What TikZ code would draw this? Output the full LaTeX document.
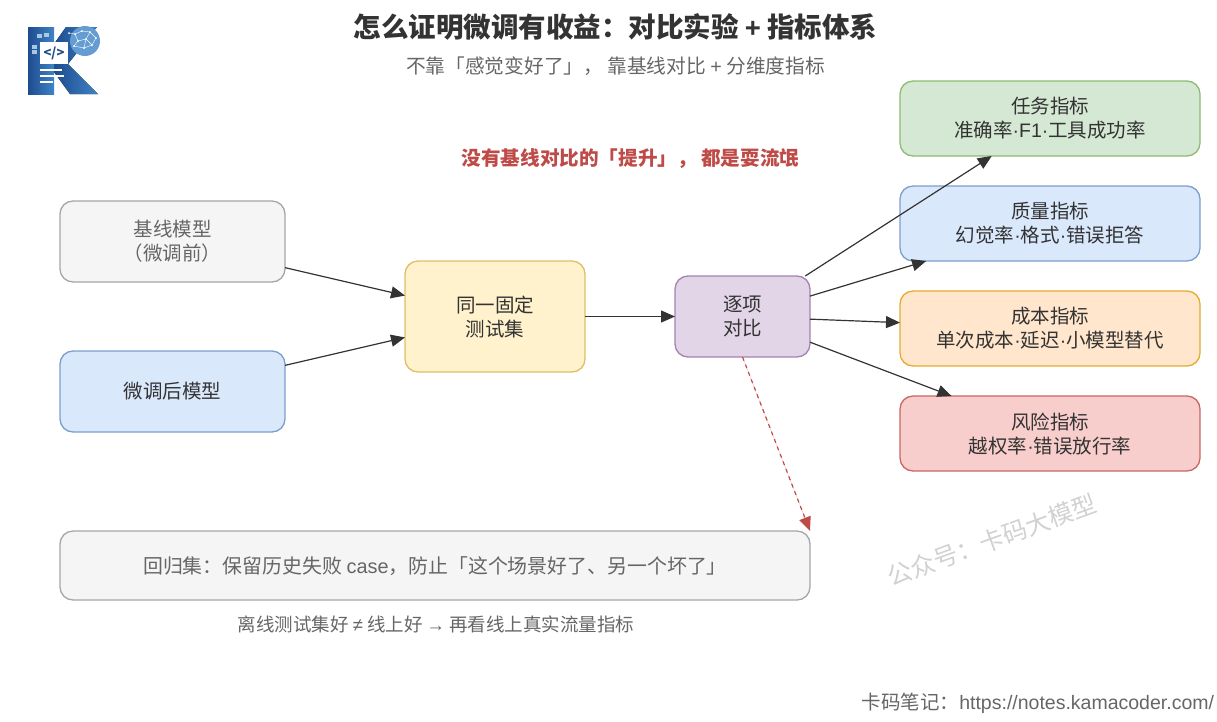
\documentclass[tikz,border=0pt]{standalone}
\usepackage{fontspec}
\setmainfont{Noto Sans CJK SC}
\newfontfamily\latfont{Liberation Sans}
\usetikzlibrary{arrows.meta}

\definecolor{inkGray}{HTML}{333333}
\definecolor{softGray}{HTML}{666666}
\definecolor{warnRed}{HTML}{BE4B48}
\definecolor{logoDark}{HTML}{1D4C8F}
\definecolor{logoMid}{HTML}{3F83C6}
\definecolor{blueLine}{HTML}{7C9ECE}
\definecolor{blueFill}{HTML}{DAE8FC}
\definecolor{greenLine}{HTML}{8DBB72}
\definecolor{greenFill}{HTML}{D5E8D4}
\definecolor{yellowLine}{HTML}{DEBE66}
\definecolor{yellowFill}{HTML}{FFF2CC}
\definecolor{orangeLine}{HTML}{E3AC2E}
\definecolor{orangeFill}{HTML}{FFE6CC}
\definecolor{violetLine}{HTML}{A582B2}
\definecolor{violetFill}{HTML}{E1D5E7}
\definecolor{redLine}{HTML}{C96663}
\definecolor{redFill}{HTML}{F8CECC}

\tikzstyle{box}=[shape=rectangle,rounded corners=13pt,line width=1.3pt,inner sep=0pt,outer sep=0pt,align=center,text depth=1.5pt,text=inkGray,font=\fontsize{19.5}{24}\selectfont]
\tikzstyle{grayBox}=[box,draw=black!35,fill=black!4,text=softGray]
\tikzstyle{blueBox}=[box,draw=blueLine,fill=blueFill]
\tikzstyle{flow}=[line width=1.2pt,draw=inkGray]
\tikzstyle{label}=[inner sep=0pt,outer sep=0pt,align=center]

\begin{document}
\begin{tikzpicture}[x=1pt,y=-1pt,>={Triangle[length=14pt,width=12pt]}]
        \useasboundingbox (0,0) rectangle (1217,721);

        % logo
        \fill[left color=logoDark,right color=logoMid] (28,27) -- (54,27) -- (54,94) -- (28,94) -- cycle;
        \fill[left color=logoDark,right color=logoMid] (54,44) -- (66,27) -- (97,27) -- (68,64) -- (98,94) -- (70,94) -- (54,72) -- cycle;
        \fill[logoMid!80!white] (85,41) circle (15);
        \draw[white,line width=0.4pt] (69,33) -- (75,34) -- (82,31) -- (90,32) -- (96,38) -- (92,45) -- (84,48) -- (74,46) -- (78,41) -- (86,39) -- (90,32) (75,34) -- (78,41) (86,39) -- (92,45) (86,39) -- (84,48);
        \foreach \dx/\dy in {75/34,82/31,90/32,96/38,78/41,86/39,92/45,84/48,74/46,69/33}
            \fill[white] (\dx,\dy) circle (1);
        \foreach \dx/\dy in {32/45,32/50,37/34,44/33}
            \fill[logoMid!45!white] (\dx,\dy) rectangle +(5,4);
        \fill[white] (40,42) rectangle (68,64);
        \node[label,text=logoDark,font=\fontsize{13}{13}\selectfont\bfseries] (code) at (54,53) {</>};
        \fill[white] (40,69) rectangle (62,71);
        \fill[white] (40,75) rectangle (64,77);
        \fill[white] (40,81) rectangle (53,83);

        % heading
        \node[label,text=inkGray,font=\fontsize{27.5}{32}\selectfont\bfseries] (title) at (615.5,27) {怎么证明微调有收益：对比实验 {\latfont +} 指标体系};
        \node[label,text=softGray,font=\fontsize{19.7}{24}\selectfont] (subtitle) at (615.5,66) {不靠「感觉变好了」， 靠基线对比 {\latfont +} 分维度指标};
        \node[label,text=warnRed,font=\fontsize{19.6}{24}\selectfont\bfseries] (warning) at (630.5,158.5) {没有基线对比的「提升」， 都是耍流氓};

        % models
        \node[grayBox,minimum width=225pt,minimum height=81pt] (baseModel) at (172.5,241.5) {基线模型\\（微调前）};
        \node[blueBox,minimum width=225pt,minimum height=81pt] (tunedModel) at (172.5,391.5) {微调后模型};

        % test set and comparison
        \node[box,draw=yellowLine,fill=yellowFill,minimum width=180pt,minimum height=111pt] (testSet) at (495,316.5) {同一固定\\测试集}
            edge [<-,flow] (baseModel)
            edge [<-,flow] (tunedModel);
        \node[box,draw=violetLine,fill=violetFill,minimum width=135pt,minimum height=81pt] (compare) at (742.5,316.5) {逐项\\对比}
            edge [<-,flow] (testSet);

        % metrics
        \node[blueBox,minimum width=300pt,minimum height=75pt] (qualityMetric) at (1050,223.5) {质量指标\\幻觉率{\latfont ·}格式{\latfont ·}错误拒答}
            edge [<-,flow] (compare);
        \node[box,draw=orangeLine,fill=orangeFill,minimum width=300pt,minimum height=75pt] (costMetric) at (1050,328.5) {成本指标\\单次成本{\latfont ·}延迟{\latfont ·}小模型替代}
            edge [<-,flow] (compare);
        \node[box,draw=redLine,fill=redFill,minimum width=300pt,minimum height=75pt] (riskMetric) at (1050,433.5) {风险指标\\越权率{\latfont ·}错误放行率}
            edge [<-,flow] (compare);
        \node[box,draw=greenLine,fill=greenFill,minimum width=300pt,minimum height=75pt] (taskMetric) at (1050,118.5) {任务指标\\准确率{\latfont ·F1·}工具成功率}
            edge [<-,flow] (compare);

        % regression set
        \node[grayBox,minimum width=750pt,minimum height=69pt,font=\fontsize{19.9}{24}\selectfont] (regressSet) at (435,565.5) {回归集：保留历史失败 {\latfont case}，防止「这个场景好了、另一个坏了」};
        \draw[->,line width=1.2pt,draw=warnRed,fill=warnRed,dash pattern=on 4pt off 4pt] (compare.south) -- (regressSet.north east);
        \node[label,text=softGray,font=\fontsize{18.5}{22}\selectfont] (offline) at (436,624.5) {离线测试集好 {\latfont ≠} 线上好 {\latfont →} 再看线上真实流量指标};

        % watermark and footer
        \node[label,text=black!18,rotate=20,font=\fontsize{24.5}{30}\selectfont] (watermark) at (992,540) {公众号：卡码大模型};
        \node[label,text=softGray,anchor=east,font=\fontsize{19.5}{24}\selectfont] (footer) at (1214,703) {卡码笔记：{\latfont https://notes.kamacoder.com/}};
    \end{tikzpicture}
\end{document}
